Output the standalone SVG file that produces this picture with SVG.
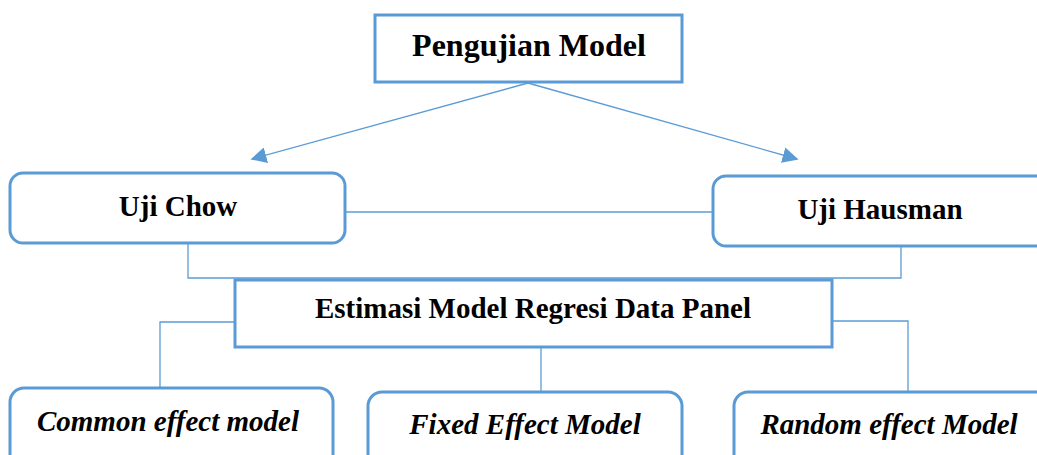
<svg xmlns="http://www.w3.org/2000/svg" width="1037" height="455" viewBox="0 0 1037 455">
<defs>
<style>
.box{fill:#fff;stroke:#5B9BD5;stroke-width:3}
.ln{fill:none;stroke:#5B9BD5;stroke-width:1.3}
.t{font-family:"Liberation Serif","Times New Roman",serif;font-weight:bold;fill:#000;text-anchor:middle}
.i{font-style:italic}
</style>
<marker id="ah2" viewBox="0 0 10 10" refX="9" refY="5" markerWidth="16" markerHeight="16" markerUnits="userSpaceOnUse" orient="auto">
<path d="M0,0 L10,5 L0,10 z" fill="#5B9BD5"/>
</marker>
</defs>
<rect width="1037" height="455" fill="#fff"/>
<g id="connectors">
<line class="ln" x1="528" y1="83" x2="252" y2="159" marker-end="url(#ah2)"/>
<line class="ln" x1="528" y1="83" x2="797" y2="159" marker-end="url(#ah2)"/>
<line class="ln" x1="345" y1="212" x2="713" y2="212"/>
<polyline class="ln" points="188,243 188,278 901,278 901,246"/>
<polyline class="ln" points="235,322 160,322 160,388"/>
<line class="ln" x1="541" y1="347" x2="541" y2="393"/>
<polyline class="ln" points="832,321 908,321 908,393"/>
</g>
<g id="pengujian">
<rect class="box" x="375" y="15" width="307" height="67"/>
<text class="t" x="529" y="56" font-size="32">Pengujian Model</text>
</g>
<g id="chow">
<rect class="box" x="10" y="173" width="335" height="70" rx="13"/>
<text class="t" x="178" y="216" font-size="29">Uji Chow</text>
</g>
<g id="hausman">
<rect class="box" x="713" y="176" width="340" height="70" rx="13"/>
<text class="t" x="880" y="219" font-size="29">Uji Hausman</text>
</g>
<g id="estimasi">
<rect class="box" x="235" y="280" width="597" height="67"/>
<text class="t" x="533" y="318" font-size="29">Estimasi Model Regresi Data Panel</text>
</g>
<g id="common">
<rect class="box" x="10" y="388" width="323" height="90" rx="14"/>
<text class="t i" x="168" y="431" font-size="29">Common effect model</text>
</g>
<g id="fixed">
<rect class="box" x="368" y="392" width="314" height="90" rx="14"/>
<text class="t i" x="525" y="434" font-size="29">Fixed Effect Model</text>
</g>
<g id="random">
<rect class="box" x="734" y="392" width="320" height="90" rx="14"/>
<text class="t i" x="889" y="434" font-size="29">Random effect Model</text>
</g>
</svg>
